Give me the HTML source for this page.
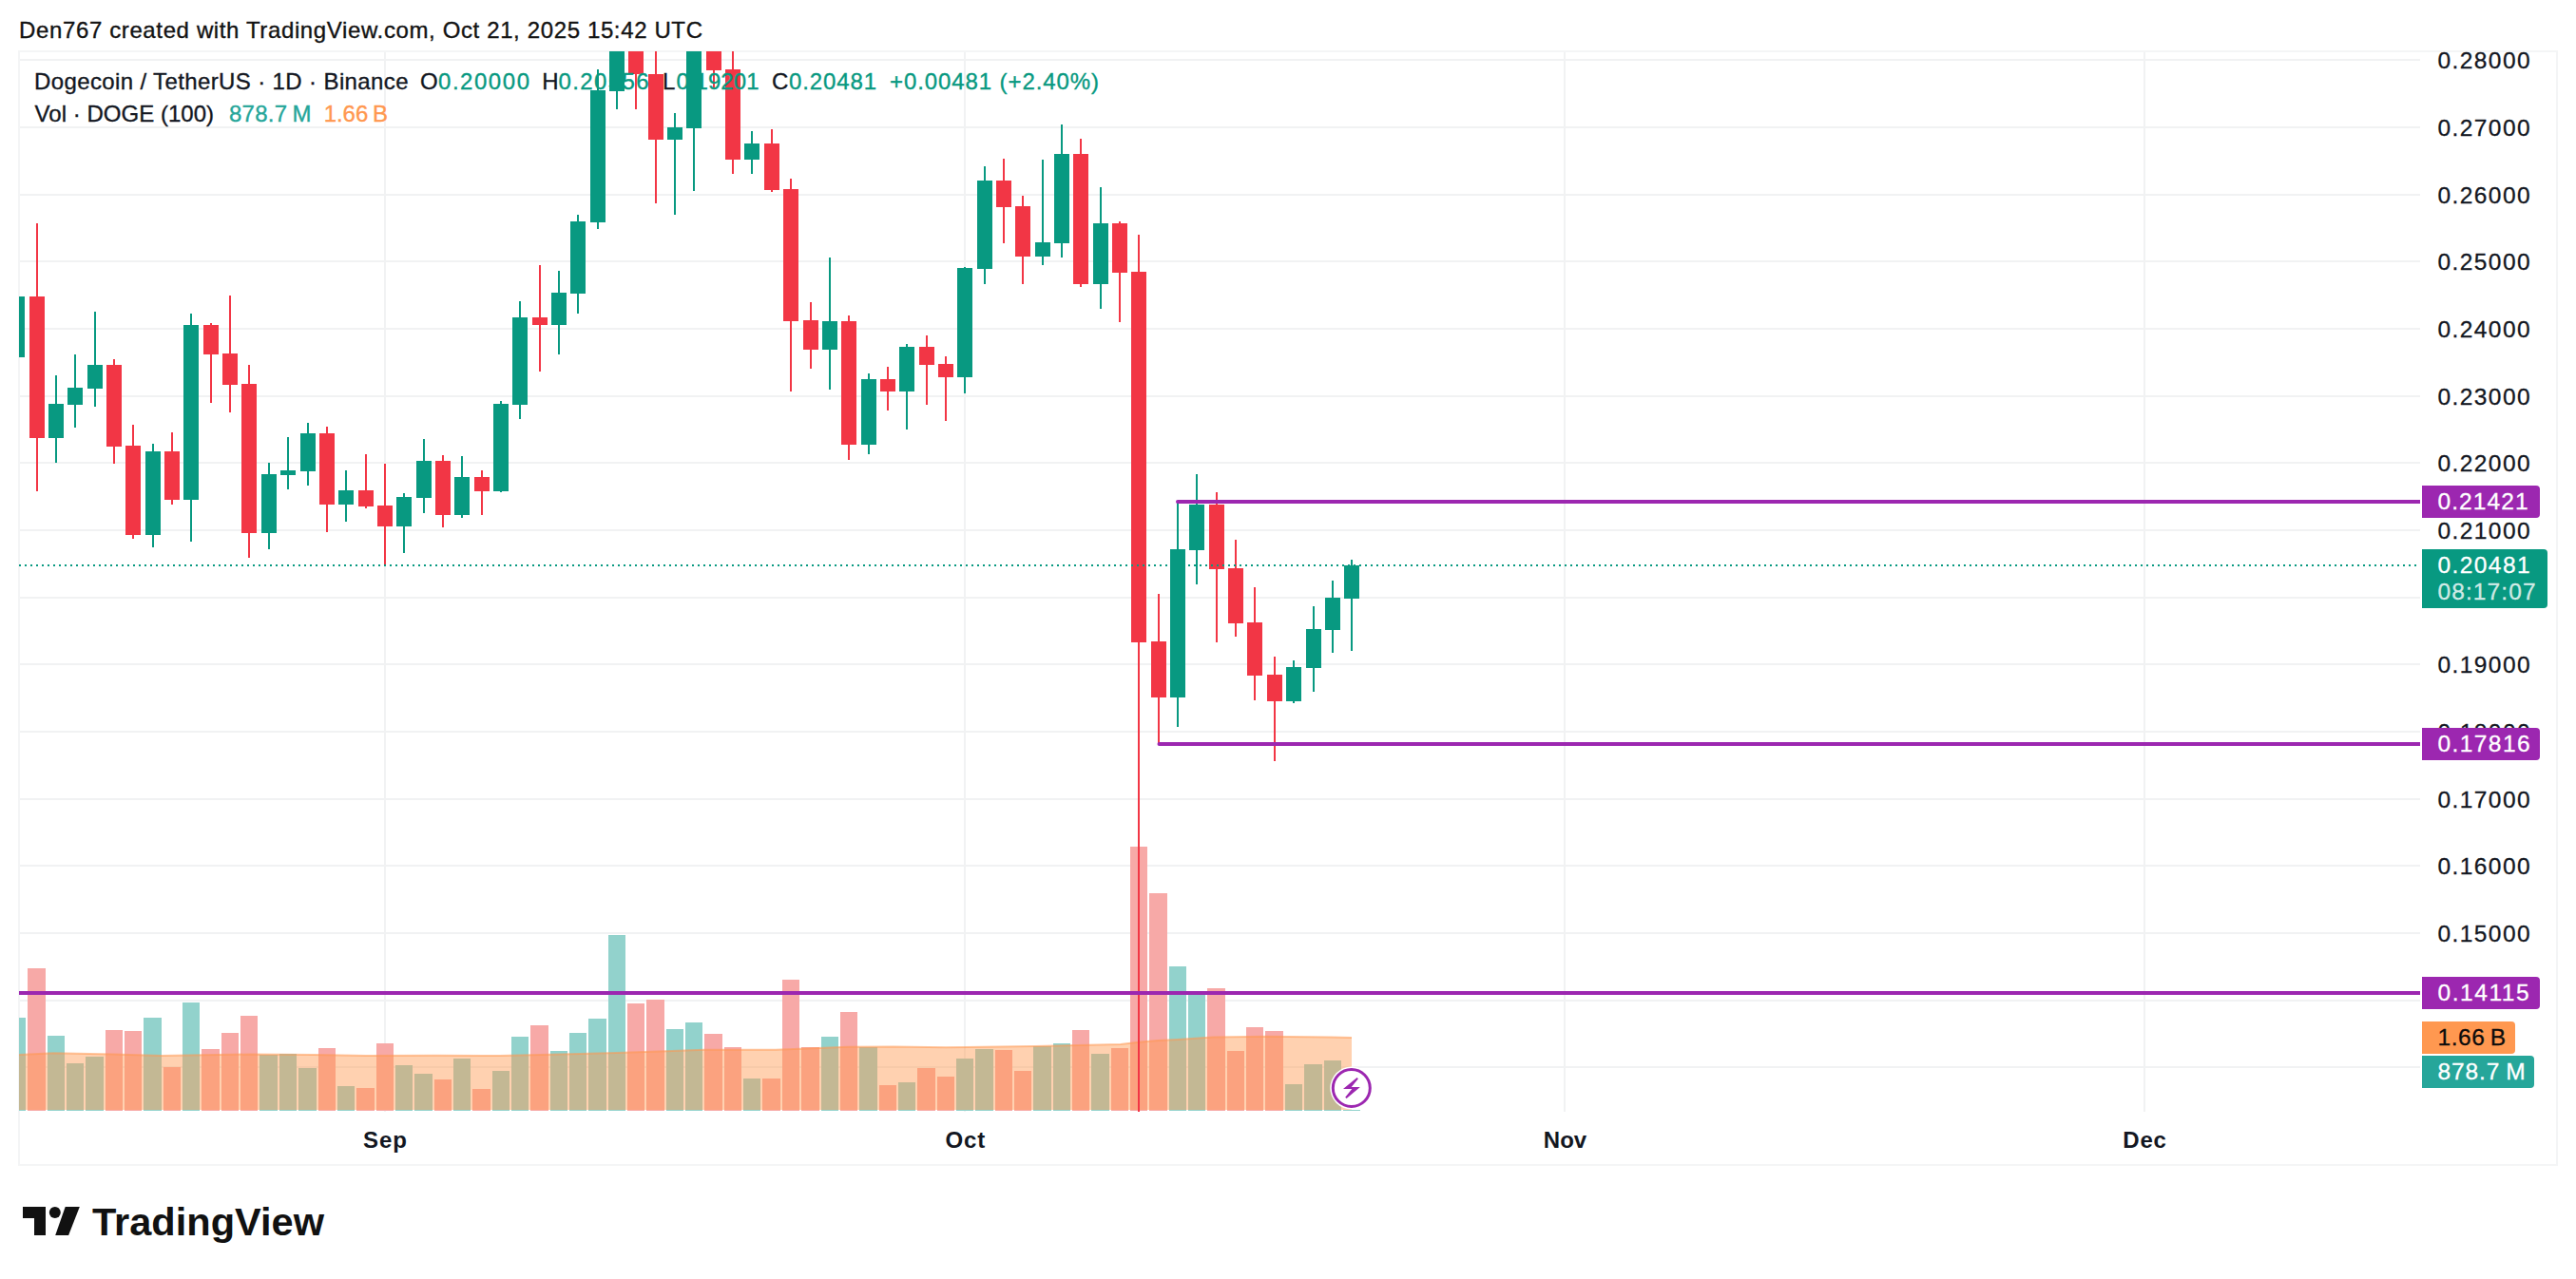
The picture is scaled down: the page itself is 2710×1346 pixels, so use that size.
<!DOCTYPE html>
<html lang="en"><head><meta charset="utf-8"><title>DOGEUSDT chart</title>
<style>
html,body{margin:0;padding:0;background:#fff;}
body{width:2710px;height:1346px;overflow:hidden;}
svg{display:block;}
text{font-family:"Liberation Sans",Arial,Helvetica,sans-serif;}
.g{fill:#f1f2f3;shape-rendering:crispEdges;}
.b{fill:#f4f5f6;shape-rendering:crispEdges;}
.t{fill:#089981;shape-rendering:crispEdges;}
.r{fill:#f23645;shape-rendering:crispEdges;}
.vt{fill:#92d2cc;shape-rendering:crispEdges;}
.vr{fill:#f7a9a7;shape-rendering:crispEdges;}
.ax{font-size:24.5px;fill:#131722;stroke:#131722;stroke-width:0.3px;letter-spacing:1.42px;}
.lg{font-size:24px;fill:#131722;stroke-width:0.35px;}
.tm{font-size:24px;font-weight:bold;fill:#131722;}
</style></head><body>
<svg width="2710" height="1346" viewBox="0 0 2710 1346">
<rect x="0" y="0" width="2710" height="1346" fill="#ffffff"/>
<defs><clipPath id="pane"><rect x="20" y="54" width="2526" height="1116"/></clipPath></defs>
<text id="hdr" x="20" y="40" font-size="24" fill="#131313" stroke="#131313" stroke-width="0.35" textLength="719">Den767 created with TradingView.com, Oct 21, 2025 15:42 UTC</text>
<g id="grid">
<rect class="g" x="20" y="62" width="2526" height="2"/>
<rect class="g" x="20" y="133" width="2526" height="2"/>
<rect class="g" x="20" y="204" width="2526" height="2"/>
<rect class="g" x="20" y="274" width="2526" height="2"/>
<rect class="g" x="20" y="345" width="2526" height="2"/>
<rect class="g" x="20" y="416" width="2526" height="2"/>
<rect class="g" x="20" y="486" width="2526" height="2"/>
<rect class="g" x="20" y="557" width="2526" height="2"/>
<rect class="g" x="20" y="628" width="2526" height="2"/>
<rect class="g" x="20" y="698" width="2526" height="2"/>
<rect class="g" x="20" y="769" width="2526" height="2"/>
<rect class="g" x="20" y="840" width="2526" height="2"/>
<rect class="g" x="20" y="910" width="2526" height="2"/>
<rect class="g" x="20" y="981" width="2526" height="2"/>
<rect class="g" x="20" y="1052" width="2526" height="2"/>
<rect class="g" x="20" y="1122" width="2526" height="2"/>
<rect class="g" x="404" y="54" width="2" height="1116"/>
<rect class="g" x="1014" y="54" width="2" height="1116"/>
<rect class="g" x="1645" y="54" width="2" height="1116"/>
<rect class="g" x="2255" y="54" width="2" height="1116"/>
</g>
<g id="border">
<rect class="b" x="19" y="53" width="2672" height="2"/>
<rect class="b" x="19" y="1225" width="2672" height="2"/>
<rect class="b" x="19" y="53" width="2" height="1174"/>
<rect class="b" x="2689" y="53" width="2" height="1174"/>
</g>
<g clip-path="url(#pane)">
<rect class="vt" x="9" y="1071" width="18" height="98"/>
<rect class="vr" x="29" y="1019" width="19" height="150"/>
<rect class="vt" x="50" y="1090" width="18" height="79"/>
<rect class="vt" x="70" y="1119" width="18" height="50"/>
<rect class="vt" x="90" y="1112" width="19" height="57"/>
<rect class="vr" x="111" y="1084" width="18" height="85"/>
<rect class="vr" x="131" y="1085" width="18" height="84"/>
<rect class="vt" x="151" y="1071" width="19" height="98"/>
<rect class="vr" x="172" y="1123" width="18" height="46"/>
<rect class="vt" x="192" y="1055" width="18" height="114"/>
<rect class="vr" x="212" y="1104" width="19" height="65"/>
<rect class="vr" x="233" y="1087" width="18" height="82"/>
<rect class="vr" x="253" y="1069" width="18" height="100"/>
<rect class="vt" x="273" y="1110" width="19" height="59"/>
<rect class="vt" x="294" y="1109" width="18" height="60"/>
<rect class="vt" x="314" y="1124" width="19" height="45"/>
<rect class="vr" x="335" y="1103" width="18" height="66"/>
<rect class="vt" x="355" y="1143" width="18" height="26"/>
<rect class="vr" x="375" y="1145" width="19" height="24"/>
<rect class="vr" x="396" y="1098" width="18" height="71"/>
<rect class="vt" x="416" y="1121" width="18" height="48"/>
<rect class="vt" x="436" y="1130" width="19" height="39"/>
<rect class="vr" x="457" y="1136" width="18" height="33"/>
<rect class="vt" x="477" y="1114" width="18" height="55"/>
<rect class="vr" x="497" y="1146" width="19" height="23"/>
<rect class="vt" x="518" y="1127" width="18" height="42"/>
<rect class="vt" x="538" y="1091" width="18" height="78"/>
<rect class="vr" x="558" y="1079" width="19" height="90"/>
<rect class="vt" x="579" y="1106" width="18" height="63"/>
<rect class="vt" x="599" y="1087" width="18" height="82"/>
<rect class="vt" x="619" y="1072" width="19" height="97"/>
<rect class="vt" x="640" y="984" width="18" height="185"/>
<rect class="vr" x="660" y="1056" width="18" height="113"/>
<rect class="vr" x="680" y="1052" width="19" height="117"/>
<rect class="vt" x="701" y="1083" width="18" height="86"/>
<rect class="vt" x="721" y="1076" width="18" height="93"/>
<rect class="vr" x="741" y="1088" width="19" height="81"/>
<rect class="vr" x="762" y="1102" width="18" height="67"/>
<rect class="vt" x="782" y="1135" width="18" height="34"/>
<rect class="vr" x="802" y="1135" width="19" height="34"/>
<rect class="vr" x="823" y="1031" width="18" height="138"/>
<rect class="vr" x="843" y="1102" width="19" height="67"/>
<rect class="vt" x="864" y="1091" width="18" height="78"/>
<rect class="vr" x="884" y="1065" width="18" height="104"/>
<rect class="vt" x="904" y="1102" width="19" height="67"/>
<rect class="vr" x="925" y="1142" width="18" height="27"/>
<rect class="vt" x="945" y="1139" width="18" height="30"/>
<rect class="vr" x="965" y="1124" width="19" height="45"/>
<rect class="vr" x="986" y="1133" width="18" height="36"/>
<rect class="vt" x="1006" y="1114" width="18" height="55"/>
<rect class="vt" x="1026" y="1104" width="19" height="65"/>
<rect class="vr" x="1047" y="1105" width="18" height="64"/>
<rect class="vr" x="1067" y="1127" width="18" height="42"/>
<rect class="vt" x="1087" y="1101" width="19" height="68"/>
<rect class="vt" x="1108" y="1098" width="18" height="71"/>
<rect class="vr" x="1128" y="1084" width="18" height="85"/>
<rect class="vt" x="1148" y="1109" width="19" height="60"/>
<rect class="vr" x="1169" y="1103" width="18" height="66"/>
<rect class="vr" x="1189" y="891" width="18" height="278"/>
<rect class="vr" x="1209" y="940" width="19" height="229"/>
<rect class="vt" x="1230" y="1017" width="18" height="152"/>
<rect class="vt" x="1250" y="1044" width="18" height="125"/>
<rect class="vr" x="1270" y="1040" width="19" height="129"/>
<rect class="vr" x="1291" y="1106" width="18" height="63"/>
<rect class="vr" x="1311" y="1081" width="18" height="88"/>
<rect class="vr" x="1331" y="1085" width="19" height="84"/>
<rect class="vt" x="1352" y="1141" width="18" height="28"/>
<rect class="vt" x="1372" y="1120" width="19" height="49"/>
<rect class="vt" x="1393" y="1116" width="18" height="53"/>
<rect class="vt" x="1413" y="1168" width="18" height="1"/>
<polygon points="20,1110 56,1108.3 120,1109.5 170,1111 263,1109.5 330,1110 385,1111.1 460,1110.8 526,1111.1 600,1109.3 648,1108 700,1106.2 741,1104.8 816,1104.8 892,1101.8 940,1101.4 995,1102.3 1089,1101 1179,1099.1 1198,1096.7 1218,1095 1239,1093.9 1276,1091.6 1333,1090.7 1400,1091.6 1422,1092 1422,1168 20,1168" fill="#ff9850" fill-opacity="0.45"/>
<polyline points="20,1110 56,1108.3 120,1109.5 170,1111 263,1109.5 330,1110 385,1111.1 460,1110.8 526,1111.1 600,1109.3 648,1108 700,1106.2 741,1104.8 816,1104.8 892,1101.8 940,1101.4 995,1102.3 1089,1101 1179,1099.1 1198,1096.7 1218,1095 1239,1093.9 1276,1091.6 1333,1090.7 1400,1091.6 1422,1092" fill="none" stroke="#ff9850" stroke-opacity="0.55" stroke-width="2"/>
<rect class="t" x="10" y="312" width="16" height="64"/>
<rect class="r" x="38" y="235" width="2" height="282"/>
<rect class="r" x="31" y="312" width="16" height="149"/>
<rect class="t" x="58" y="395" width="2" height="92"/>
<rect class="t" x="51" y="425" width="16" height="36"/>
<rect class="t" x="78" y="373" width="2" height="77"/>
<rect class="t" x="71" y="408" width="16" height="18"/>
<rect class="t" x="99" y="328" width="2" height="100"/>
<rect class="t" x="92" y="384" width="16" height="25"/>
<rect class="r" x="119" y="378" width="2" height="110"/>
<rect class="r" x="112" y="384" width="16" height="86"/>
<rect class="r" x="139" y="447" width="2" height="120"/>
<rect class="r" x="132" y="469" width="16" height="94"/>
<rect class="t" x="160" y="467" width="2" height="109"/>
<rect class="t" x="153" y="475" width="16" height="88"/>
<rect class="r" x="180" y="455" width="2" height="76"/>
<rect class="r" x="173" y="475" width="16" height="51"/>
<rect class="t" x="200" y="330" width="2" height="240"/>
<rect class="t" x="193" y="342" width="16" height="184"/>
<rect class="r" x="221" y="340" width="2" height="84"/>
<rect class="r" x="214" y="342" width="16" height="31"/>
<rect class="r" x="241" y="311" width="2" height="123"/>
<rect class="r" x="234" y="372" width="16" height="33"/>
<rect class="r" x="261" y="384" width="2" height="203"/>
<rect class="r" x="254" y="404" width="16" height="157"/>
<rect class="t" x="282" y="487" width="2" height="91"/>
<rect class="t" x="275" y="499" width="16" height="62"/>
<rect class="t" x="302" y="460" width="2" height="55"/>
<rect class="t" x="295" y="495" width="16" height="5"/>
<rect class="t" x="323" y="445" width="2" height="66"/>
<rect class="t" x="316" y="456" width="16" height="40"/>
<rect class="r" x="343" y="449" width="2" height="111"/>
<rect class="r" x="336" y="456" width="16" height="75"/>
<rect class="t" x="363" y="495" width="2" height="54"/>
<rect class="t" x="356" y="516" width="16" height="15"/>
<rect class="r" x="384" y="478" width="2" height="57"/>
<rect class="r" x="377" y="516" width="16" height="17"/>
<rect class="r" x="404" y="488" width="2" height="107"/>
<rect class="r" x="397" y="532" width="16" height="22"/>
<rect class="t" x="424" y="519" width="2" height="63"/>
<rect class="t" x="417" y="523" width="16" height="31"/>
<rect class="t" x="445" y="462" width="2" height="78"/>
<rect class="t" x="438" y="485" width="16" height="39"/>
<rect class="r" x="465" y="479" width="2" height="76"/>
<rect class="r" x="458" y="485" width="16" height="57"/>
<rect class="t" x="485" y="480" width="2" height="65"/>
<rect class="t" x="478" y="502" width="16" height="40"/>
<rect class="r" x="506" y="495" width="2" height="47"/>
<rect class="r" x="499" y="502" width="16" height="15"/>
<rect class="t" x="526" y="422" width="2" height="96"/>
<rect class="t" x="519" y="425" width="16" height="92"/>
<rect class="t" x="546" y="317" width="2" height="124"/>
<rect class="t" x="539" y="334" width="16" height="92"/>
<rect class="r" x="567" y="279" width="2" height="112"/>
<rect class="r" x="560" y="334" width="16" height="8"/>
<rect class="t" x="587" y="285" width="2" height="88"/>
<rect class="t" x="580" y="308" width="16" height="34"/>
<rect class="t" x="607" y="226" width="2" height="104"/>
<rect class="t" x="600" y="233" width="16" height="76"/>
<rect class="t" x="628" y="73" width="2" height="168"/>
<rect class="t" x="621" y="95" width="16" height="139"/>
<rect class="t" x="648" y="20" width="2" height="95"/>
<rect class="t" x="641" y="20" width="16" height="76"/>
<rect class="r" x="668" y="20" width="2" height="95"/>
<rect class="r" x="661" y="20" width="16" height="58"/>
<rect class="r" x="689" y="20" width="2" height="194"/>
<rect class="r" x="682" y="78" width="16" height="69"/>
<rect class="t" x="709" y="119" width="2" height="107"/>
<rect class="t" x="702" y="134" width="16" height="13"/>
<rect class="t" x="729" y="20" width="2" height="181"/>
<rect class="t" x="722" y="20" width="16" height="115"/>
<rect class="r" x="750" y="20" width="2" height="72"/>
<rect class="r" x="743" y="20" width="16" height="54"/>
<rect class="r" x="770" y="20" width="2" height="163"/>
<rect class="r" x="763" y="73" width="16" height="95"/>
<rect class="t" x="790" y="138" width="2" height="45"/>
<rect class="t" x="783" y="151" width="16" height="17"/>
<rect class="r" x="811" y="136" width="2" height="66"/>
<rect class="r" x="804" y="151" width="16" height="49"/>
<rect class="r" x="831" y="188" width="2" height="224"/>
<rect class="r" x="824" y="199" width="16" height="139"/>
<rect class="r" x="852" y="318" width="2" height="70"/>
<rect class="r" x="845" y="337" width="16" height="31"/>
<rect class="t" x="872" y="271" width="2" height="139"/>
<rect class="t" x="865" y="338" width="16" height="30"/>
<rect class="r" x="892" y="332" width="2" height="152"/>
<rect class="r" x="885" y="338" width="16" height="130"/>
<rect class="t" x="913" y="393" width="2" height="85"/>
<rect class="t" x="906" y="399" width="16" height="69"/>
<rect class="r" x="933" y="386" width="2" height="46"/>
<rect class="r" x="926" y="399" width="16" height="13"/>
<rect class="t" x="953" y="362" width="2" height="90"/>
<rect class="t" x="946" y="365" width="16" height="47"/>
<rect class="r" x="974" y="353" width="2" height="73"/>
<rect class="r" x="967" y="365" width="16" height="19"/>
<rect class="r" x="994" y="375" width="2" height="68"/>
<rect class="r" x="987" y="383" width="16" height="14"/>
<rect class="t" x="1014" y="281" width="2" height="133"/>
<rect class="t" x="1007" y="282" width="16" height="115"/>
<rect class="t" x="1035" y="175" width="2" height="124"/>
<rect class="t" x="1028" y="190" width="16" height="93"/>
<rect class="r" x="1055" y="167" width="2" height="89"/>
<rect class="r" x="1048" y="190" width="16" height="28"/>
<rect class="r" x="1075" y="206" width="2" height="93"/>
<rect class="r" x="1068" y="217" width="16" height="53"/>
<rect class="t" x="1096" y="168" width="2" height="111"/>
<rect class="t" x="1089" y="255" width="16" height="15"/>
<rect class="t" x="1116" y="131" width="2" height="140"/>
<rect class="t" x="1109" y="162" width="16" height="94"/>
<rect class="r" x="1136" y="146" width="2" height="156"/>
<rect class="r" x="1129" y="162" width="16" height="137"/>
<rect class="t" x="1157" y="197" width="2" height="128"/>
<rect class="t" x="1150" y="235" width="16" height="64"/>
<rect class="r" x="1177" y="233" width="2" height="106"/>
<rect class="r" x="1170" y="235" width="16" height="52"/>
<rect class="r" x="1197" y="247" width="2" height="953"/>
<rect class="r" x="1190" y="286" width="16" height="390"/>
<rect class="r" x="1218" y="625" width="2" height="158"/>
<rect class="r" x="1211" y="675" width="16" height="59"/>
<rect class="t" x="1238" y="528" width="2" height="237"/>
<rect class="t" x="1231" y="578" width="16" height="156"/>
<rect class="t" x="1258" y="499" width="2" height="116"/>
<rect class="t" x="1251" y="531" width="16" height="48"/>
<rect class="r" x="1279" y="518" width="2" height="158"/>
<rect class="r" x="1272" y="531" width="16" height="68"/>
<rect class="r" x="1299" y="568" width="2" height="102"/>
<rect class="r" x="1292" y="598" width="16" height="58"/>
<rect class="r" x="1319" y="618" width="2" height="119"/>
<rect class="r" x="1312" y="655" width="16" height="56"/>
<rect class="r" x="1340" y="691" width="2" height="110"/>
<rect class="r" x="1333" y="710" width="16" height="28"/>
<rect class="t" x="1360" y="695" width="2" height="45"/>
<rect class="t" x="1353" y="702" width="16" height="36"/>
<rect class="t" x="1381" y="638" width="2" height="90"/>
<rect class="t" x="1374" y="662" width="16" height="41"/>
<rect class="t" x="1401" y="611" width="2" height="76"/>
<rect class="t" x="1394" y="629" width="16" height="34"/>
<rect class="t" x="1421" y="589" width="2" height="96"/>
<rect class="t" x="1414" y="595" width="16" height="35"/>
<line x1="20" y1="595" x2="2543" y2="595" stroke="#089981" stroke-width="2" stroke-dasharray="2 4" shape-rendering="crispEdges"/>
<line x1="1239" y1="528" x2="2550" y2="528" stroke="#9c27b0" stroke-width="4" stroke-linecap="round"/>
<line x1="1219.5" y1="783" x2="2550" y2="783" stroke="#9c27b0" stroke-width="4" stroke-linecap="round"/>
<line x1="16" y1="1045" x2="2550" y2="1045" stroke="#9c27b0" stroke-width="4"/>
</g>
<g id="legend">
<text class="lg" x="36" y="94.2" style="fill:#131722;stroke:#131722" textLength="393.5">Dogecoin / TetherUS · 1D · Binance</text>
<text class="lg" x="442" y="94.2" style="fill:#131722;stroke:#131722">O</text>
<text class="lg" x="461" y="94.2" style="fill:#089981;stroke:#089981" textLength="96">0.20000</text>
<text class="lg" x="570.3" y="94.2" style="fill:#131722;stroke:#131722">H</text>
<text class="lg" x="587.5" y="94.2" style="fill:#089981;stroke:#089981" textLength="95">0.20556</text>
<text class="lg" x="697" y="94.2" style="fill:#131722;stroke:#131722">L</text>
<text class="lg" x="711.5" y="94.2" style="fill:#089981;stroke:#089981" textLength="87">0.19201</text>
<text class="lg" x="812" y="94.2" style="fill:#131722;stroke:#131722">C</text>
<text class="lg" x="830" y="94.2" style="fill:#089981;stroke:#089981" textLength="92">0.20481</text>
<text class="lg" x="936" y="94.2" style="fill:#089981;stroke:#089981" textLength="220">+0.00481 (+2.40%)</text>
<text class="lg" x="36.6" y="128" style="fill:#131722;stroke:#131722" textLength="188.5">Vol · DOGE (100)</text>
<text class="lg" x="241" y="128" style="fill:#26a69a;stroke:#26a69a" textLength="86.5">878.7 M</text>
<text class="lg" x="340.7" y="128" style="fill:#ff9850;stroke:#ff9850" textLength="67.3">1.66 B</text>
</g>
<g id="bolt">
<circle cx="1421.8" cy="1145" r="22.5" fill="#ffffff"/>
<circle cx="1421.8" cy="1145" r="19.5" fill="#ffffff" stroke="#9c27b0" stroke-width="3"/>
<polygon points="1427.6,1134 1428.9,1135.2 1421.7,1144.1 1430.9,1144.1 1416.6,1156 1415.2,1154.8 1422.3,1145.9 1413,1145.9" fill="#9c27b0"/>
</g>
<g id="axis">
<text class="ax" x="2564.5" y="71.9">0.28000</text>
<text class="ax" x="2564.5" y="142.9">0.27000</text>
<text class="ax" x="2564.5" y="213.9">0.26000</text>
<text class="ax" x="2564.5" y="283.9">0.25000</text>
<text class="ax" x="2564.5" y="354.9">0.24000</text>
<text class="ax" x="2564.5" y="425.9">0.23000</text>
<text class="ax" x="2564.5" y="495.9">0.22000</text>
<text class="ax" x="2564.5" y="566.9">0.21000</text>
<text class="ax" x="2564.5" y="707.9">0.19000</text>
<text class="ax" x="2564.5" y="778.9">0.18000</text>
<text class="ax" x="2564.5" y="849.9">0.17000</text>
<text class="ax" x="2564.5" y="919.9">0.16000</text>
<text class="ax" x="2564.5" y="990.9">0.15000</text>
</g>
<g id="tags">
<path d="M2548 511 H2668 a4 4 0 0 1 4 4 V541 a4 4 0 0 1 -4 4 H2548 Z" fill="#9c27b0"/>
<text class="ax" x="2564.5" y="536" style="fill:#fff;stroke:#fff" textLength="96.5">0.21421</text>
<path d="M2548 766 H2668 a4 4 0 0 1 4 4 V796 a4 4 0 0 1 -4 4 H2548 Z" fill="#9c27b0"/>
<text class="ax" x="2564.5" y="791" style="fill:#fff;stroke:#fff">0.17816</text>
<path d="M2548 1028 H2668 a4 4 0 0 1 4 4 V1058 a4 4 0 0 1 -4 4 H2548 Z" fill="#9c27b0"/>
<text class="ax" x="2564.5" y="1053" style="fill:#fff;stroke:#fff" textLength="97.5">0.14115</text>
<path d="M2548 578 H2676 a4 4 0 0 1 4 4 V636 a4 4 0 0 1 -4 4 H2548 Z" fill="#089981"/>
<text class="ax" x="2564.5" y="603.2" style="fill:#fff;stroke:#fff">0.20481</text>
<text class="ax" x="2564.5" y="631.4" style="fill:#fff;stroke:#fff;fill-opacity:0.78;stroke-opacity:0.78" textLength="104.5">08:17:07</text>
<path d="M2548 1075 H2642 a4 4 0 0 1 4 4 V1105 a4 4 0 0 1 -4 4 H2548 Z" fill="#ff9850"/>
<text class="ax" x="2564.5" y="1099.8" style="fill:#0c0c0c;stroke:#0c0c0c" textLength="73">1.66 B</text>
<path d="M2548 1111 H2662 a4 4 0 0 1 4 4 V1141 a4 4 0 0 1 -4 4 H2548 Z" fill="#26a69a"/>
<text class="ax" x="2564.5" y="1136" style="fill:#fff;stroke:#fff" textLength="93.5">878.7 M</text>
</g>
<g id="time">
<text class="tm" x="405.5" y="1208" text-anchor="middle" style="letter-spacing:1px">Sep</text>
<text class="tm" x="1015.8" y="1208" text-anchor="middle" style="letter-spacing:0.8px">Oct</text>
<text class="tm" x="1646.5" y="1208" text-anchor="middle" style="letter-spacing:0px">Nov</text>
<text class="tm" x="2256.5" y="1208" text-anchor="middle" style="letter-spacing:0.8px">Dec</text>
</g>
<g id="logo" fill="#111111">
<path d="M24 1270 H48 V1300 H36 V1282 H24 Z"/>
<circle cx="57.8" cy="1275.9" r="6"/>
<path d="M68.7 1270 H83.8 L72.1 1300 H58.2 Z"/>
<text id="tv" x="97" y="1300" font-size="41.5" font-weight="bold" textLength="244" lengthAdjust="spacingAndGlyphs">TradingView</text>
</g>
</svg>
</body></html>
